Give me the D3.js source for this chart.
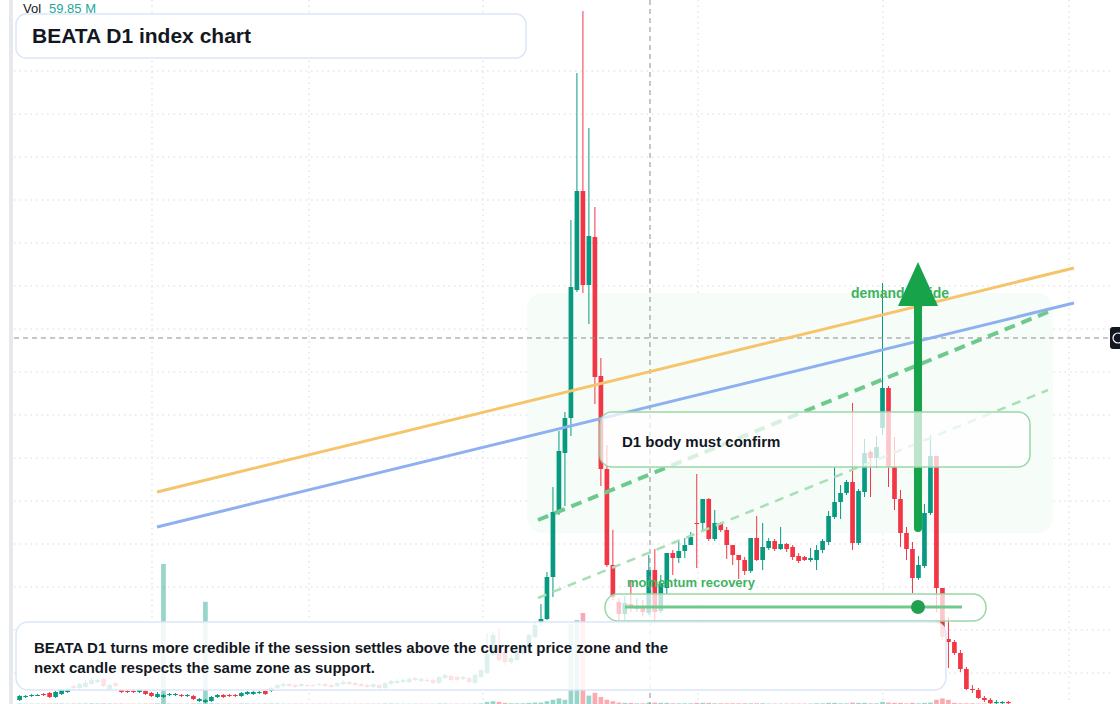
<!DOCTYPE html>
<html>
<head>
<meta charset="utf-8">
<script src="https://cdn.jsdelivr.net/npm/d3@7"></script>
<style>
  body { margin: 0; background: #fff; }
  svg { display: block; font-family: "Liberation Sans", Arial, sans-serif; }
</style>
</head>
<body>
<svg id="chart" width="1120" height="704"></svg>
<script>
// candle values (arbitrary price units)
var opens = [20,23,24,24,26,27,23,26,28,34, 32,33,36,38,41,31,37,30,29,29, 28,29,27,23,23,25,25,25,24,24,
  19,18,19,23,25,25,25,24,26,26, 27,29,29,32,34,36,35,34,35,35, 35,36,35,34,36,38,37,36,35,33,
  35,32,36,37,38,38,42,39,40,40, 37,42,44,43,41,42,37,43,47,65, 75,68,58,60,66,72,83,98,101,143,
  208,267,302,430,529,435,483,344,251,155, 118,106,116,111,113,107,150,109,132,167, 162,169,175,197,197,221,181,197,190,175,
  165,160,149,182,160,172,179,171,176,173, 164,163,160,160,170,178,203,218,227,238, 177,228,268,262,292,332,253,221,187,171,
  142,154,207,264,132,81,78,67,51,31, 30,22,20,17,17,18];
var closes = [24,24,25,25,25,23,28,30,31,32, 36,37,40,40,34,35,34,28,28,28, 30,26,24,26,25,26,26,24,25,21,
  21,20,23,25,23,24,24,27,28,28, 28,26,32,35,36,34,33,36,34,34, 36,34,33,37,38,36,35,34,33,36,
  32,37,39,39,40,41,40,41,39,37, 43,45,40,40,43,38,45,50,66,85, 60,58,62,68,74,85,95,101,143,208,
  269,302,433,529,435,484,343,251,155,123, 106,117,112,114,108,150,108,136,167,162, 169,175,183,196,221,181,197,190,175,165,
  160,149,182,160,173,179,171,176,171,163, 159,160,162,170,179,204,218,227,238,177, 229,267,262,273,332,253,221,187,171,142,
  155,207,264,132,83,78,67,51,31,30, 22,20,17,18,18,17];
var highs = [25,25,26,26,27,28,29,31,32,35, 37,40,42,41,42,36,38,31,30,30, 31,30,28,28,26,27,27,26,26,25,
  22,21,24,26,26,26,26,28,29,29, 29,30,33,36,38,37,36,37,36,36, 37,37,36,38,40,39,38,37,36,37,
  36,38,40,41,42,43,43,42,42,41, 44,46,45,44,44,43,46,51,87,88, 92,70,65,70,76,86,98,116,148,233,
  289,308,500,647,709,592,513,362,275,190, 122,124,140,122,120,165,171,145,167,170, 179,182,188,246,221,222,210,198,193,175,
  165,163,182,204,197,182,181,193,177,175, 167,164,172,175,181,209,253,235,240,317, 231,281,270,284,437,334,283,230,193,178,
  164,216,285,264,132,103,80,70,53,35, 32,24,22,20,19,19];
var lows = [19,22,23,24,24,22,22,25,27,31, 31,32,35,37,33,30,33,27,27,27, 27,25,23,22,22,24,24,23,23,20,
  18,17,18,22,22,23,23,23,25,25, 26,25,28,31,33,33,32,33,33,33, 34,33,32,33,35,35,34,33,32,32,
  31,31,35,36,37,37,39,38,38,36, 36,41,39,39,40,37,36,42,46,64, 58,55,56,59,65,70,82,94,100,123,
  205,214,284,428,427,396,316,234,153,120, 100,100,108,108,104,105,100,107,125,145, 157,162,175,152,189,179,179,188,161,155,
  141,145,147,159,150,170,169,170,168,160, 157,159,158,150,167,175,201,201,225,170, 175,223,223,252,285,233,210,173,160,127,
  140,152,205,108,80,52,65,48,30,27, 21,18,16,15,15,15];
var volumes = [0.3,0.2,0.2,0.2,0.2,0.3,0.3,0.3,0.2,0.3, 0.3,0.3,0.4,0.3,0.4,0.3,0.3,0.3,0.2,0.2,
  0.2,0.3,0.3,0.4,100,0.3,0.2,0.2,0.2,0.3, 0.4,73,0.4,0.3,0.2,0.2,0.2,0.3,0.3,0.2,
  0.2,0.3,0.3,0.3,0.2,0.2,0.2,0.2,0.2,0.2, 0.2,0.2,0.2,0.2,0.2,0.2,0.2,0.2,0.2,0.2,
  0.2,0.3,0.3,0.2,0.2,0.2,0.2,0.2,0.2,0.2, 0.3,0.3,0.2,0.2,0.2,0.2,0.3,0.4,1.5,2,
  1.5,0.8,0.5,0.5,0.5,0.8,1,1,2,3, 4,3,57,60,65,6,8,5,3,2,
  1,0.8,0.8,0.5,0.5,1,1,0.8,0.8,0.5, 0.5,0.5,0.5,0.8,0.8,0.8,0.5,0.5,0.5,0.5,
  0.5,0.5,0.5,0.5,0.5,0.3,0.3,0.3,0.3,0.3, 0.3,0.3,0.3,0.5,0.5,0.8,0.8,0.5,0.5,1,
  0.8,0.8,0.5,0.5,1.5,1,0.8,0.8,0.5,0.8, 0.5,0.8,1,3,4,3,0.8,0.5,0.5,0.5, 0.3,0.3,0.3,0.3,0.3,0.3];

var title = "BEATA D1 index chart";
var noteLines = ["BEATA D1 turns more credible if the session settles above the current price zone and the",
  "next candle respects the same zone as support."];
var volLabel = "59.85 M";

var up = "#089981", down = "#f23645";
var svg = d3.select("#chart");

var x = d3.scaleBand().domain(d3.range(opens.length)).range([16, 16 + opens.length * 6]).padding(0.22);
var y = d3.scaleLinear().domain([0, 720]).range([720, 0]);
var yv = d3.scaleLinear().domain([0, 100]).range([704, 564]);
var cx = function(i) { return x(i) + x.bandwidth() / 2; };

// left strip
svg.append("rect").attr("x", 9).attr("y", 0).attr("width", 4).attr("height", 704).attr("fill", "#e6e8ee");

// grid
[71,114,157,200,243,286,329,372,415,458,501,544,587,630,673].forEach(function(g) {
  svg.append("line").attr("x1", 14).attr("x2", 1110).attr("y1", g).attr("y2", g)
    .attr("stroke", "#d6d9e0").attr("stroke-dasharray", "1.5,4");
});
[152,309,483,698,883,1069].forEach(function(g) {
  svg.append("line").attr("x1", g).attr("x2", g).attr("y1", 0).attr("y2", 704)
    .attr("stroke", "#d6d9e0").attr("stroke-dasharray", "1.5,4");
});

// zone
svg.append("rect").attr("x", 527).attr("y", 293).attr("width", 526).attr("height", 240).attr("rx", 16)
  .attr("fill", "#f6fcf7");

// volume
svg.selectAll(".vol").data(volumes).enter().append("rect")
  .attr("x", function(d, i) { return x(i); }).attr("width", x.bandwidth())
  .attr("y", function(d) { return yv(d); }).attr("height", function(d) { return 704 - yv(d); })
  .attr("fill", function(d, i) { return closes[i] >= opens[i] ? up : down; }).attr("opacity", 0.42);

// candles
var cg = svg.selectAll(".candle").data(opens).enter().append("g");
cg.append("line").attr("x1", function(d, i) { return cx(i); }).attr("x2", function(d, i) { return cx(i); })
  .attr("y1", function(d, i) { return y(highs[i]); }).attr("y2", function(d, i) { return y(lows[i]); })
  .attr("stroke", function(d, i) { return closes[i] >= opens[i] ? up : down; }).attr("stroke-width", 1);
cg.append("rect").attr("x", function(d, i) { return x(i); }).attr("width", x.bandwidth())
  .attr("y", function(d, i) { return y(Math.max(opens[i], closes[i])); })
  .attr("height", function(d, i) { return Math.max(1, Math.abs(y(opens[i]) - y(closes[i]))); })
  .attr("fill", function(d, i) { return closes[i] >= opens[i] ? up : down; });

// crosshair
svg.append("line").attr("x1", 14).attr("x2", 1110).attr("y1", 338).attr("y2", 338)
  .attr("stroke", "#8a8d96").attr("stroke-dasharray", "5,4");
svg.append("line").attr("x1", 650).attr("x2", 650).attr("y1", 0).attr("y2", 704)
  .attr("stroke", "#8a8d96").attr("stroke-dasharray", "5,4");
svg.append("rect").attr("x", 1110).attr("y", 327).attr("width", 14).attr("height", 22).attr("rx", 3).attr("fill", "#131722");
svg.append("circle").attr("cx", 1118).attr("cy", 338).attr("r", 5).attr("fill", "none").attr("stroke", "#fff").attr("stroke-width", 1.2);

// trend lines
svg.append("line").attr("x1", 157).attr("y1", 492).attr("x2", 1074).attr("y2", 268)
  .attr("stroke", "#f5c46b").attr("stroke-width", 3);
svg.append("line").attr("x1", 157).attr("y1", 527).attr("x2", 1074).attr("y2", 303)
  .attr("stroke", "#8fb0f0").attr("stroke-width", 3);
svg.append("line").attr("x1", 538).attr("y1", 520).attr("x2", 1048).attr("y2", 312)
  .attr("stroke", "#6fc98c").attr("stroke-width", 4).attr("stroke-dasharray", "11,7");
svg.append("line").attr("x1", 538).attr("y1", 598).attr("x2", 1048).attr("y2", 390)
  .attr("stroke", "#a8dfb6").attr("stroke-width", 2.5).attr("stroke-dasharray", "9,7");

// arrow
svg.append("text").attr("x", 851).attr("y", 298).text("demand divide")
  .attr("fill", "#3fb35f").attr("font-size", 14).attr("font-weight", "bold");
svg.append("line").attr("x1", 918).attr("y1", 528).attr("x2", 918).attr("y2", 300)
  .attr("stroke", "#17a34a").attr("stroke-width", 8).attr("stroke-linecap", "round");
svg.append("path").attr("d", "M918,262 L938,306 L898,306 Z").attr("fill", "#17a34a");

// D1 box
svg.append("rect").attr("x", 600).attr("y", 412).attr("width", 430).attr("height", 55).attr("rx", 12)
  .attr("fill", "#fff").attr("fill-opacity", 0.72).attr("stroke", "#9ad8a8").attr("stroke-width", 1.5);
svg.append("text").attr("x", 622).attr("y", 447).text("D1 body must confirm")
  .attr("fill", "#131722").attr("font-size", 15).attr("font-weight", "bold");

// momentum box
svg.append("rect").attr("x", 605).attr("y", 594).attr("width", 381).attr("height", 27).attr("rx", 13)
  .attr("fill", "#fff").attr("fill-opacity", 0.72).attr("stroke", "#9ad8a8").attr("stroke-width", 1.5);
svg.append("line").attr("x1", 625).attr("x2", 962).attr("y1", 607).attr("y2", 607)
  .attr("stroke", "#6fc98c").attr("stroke-width", 3);
svg.append("circle").attr("cx", 918).attr("cy", 607).attr("r", 7).attr("fill", "#22a04f");
svg.append("text").attr("x", 627).attr("y", 587).text("momentum recovery")
  .attr("fill", "#3fb35f").attr("font-size", 13).attr("font-weight", "bold");

// note box
svg.append("rect").attr("x", 16).attr("y", 622).attr("width", 930).attr("height", 68).attr("rx", 12)
  .attr("fill", "#fff").attr("fill-opacity", 0.86).attr("stroke", "#dce6f8").attr("stroke-width", 1.5);
noteLines.forEach(function(t, k) {
  svg.append("text").attr("x", 34).attr("y", 653 + k * 20).text(t)
    .attr("fill", "#131722").attr("font-size", 15).attr("font-weight", "bold");
});

// title
svg.append("rect").attr("x", 16).attr("y", 14).attr("width", 510).attr("height", 44).attr("rx", 10)
  .attr("fill", "#fff").attr("fill-opacity", 0.92).attr("stroke", "#dce6f8").attr("stroke-width", 1.5);
svg.append("text").attr("x", 32).attr("y", 43).text(title)
  .attr("fill", "#131722").attr("font-size", 21).attr("font-weight", "bold");
svg.append("text").attr("x", 23).attr("y", 13).text("Vol").attr("fill", "#131722").attr("font-size", 13);
svg.append("text").attr("x", 49).attr("y", 13).text(volLabel).attr("fill", "#26a69a").attr("font-size", 13);
</script>
</body>
</html>
